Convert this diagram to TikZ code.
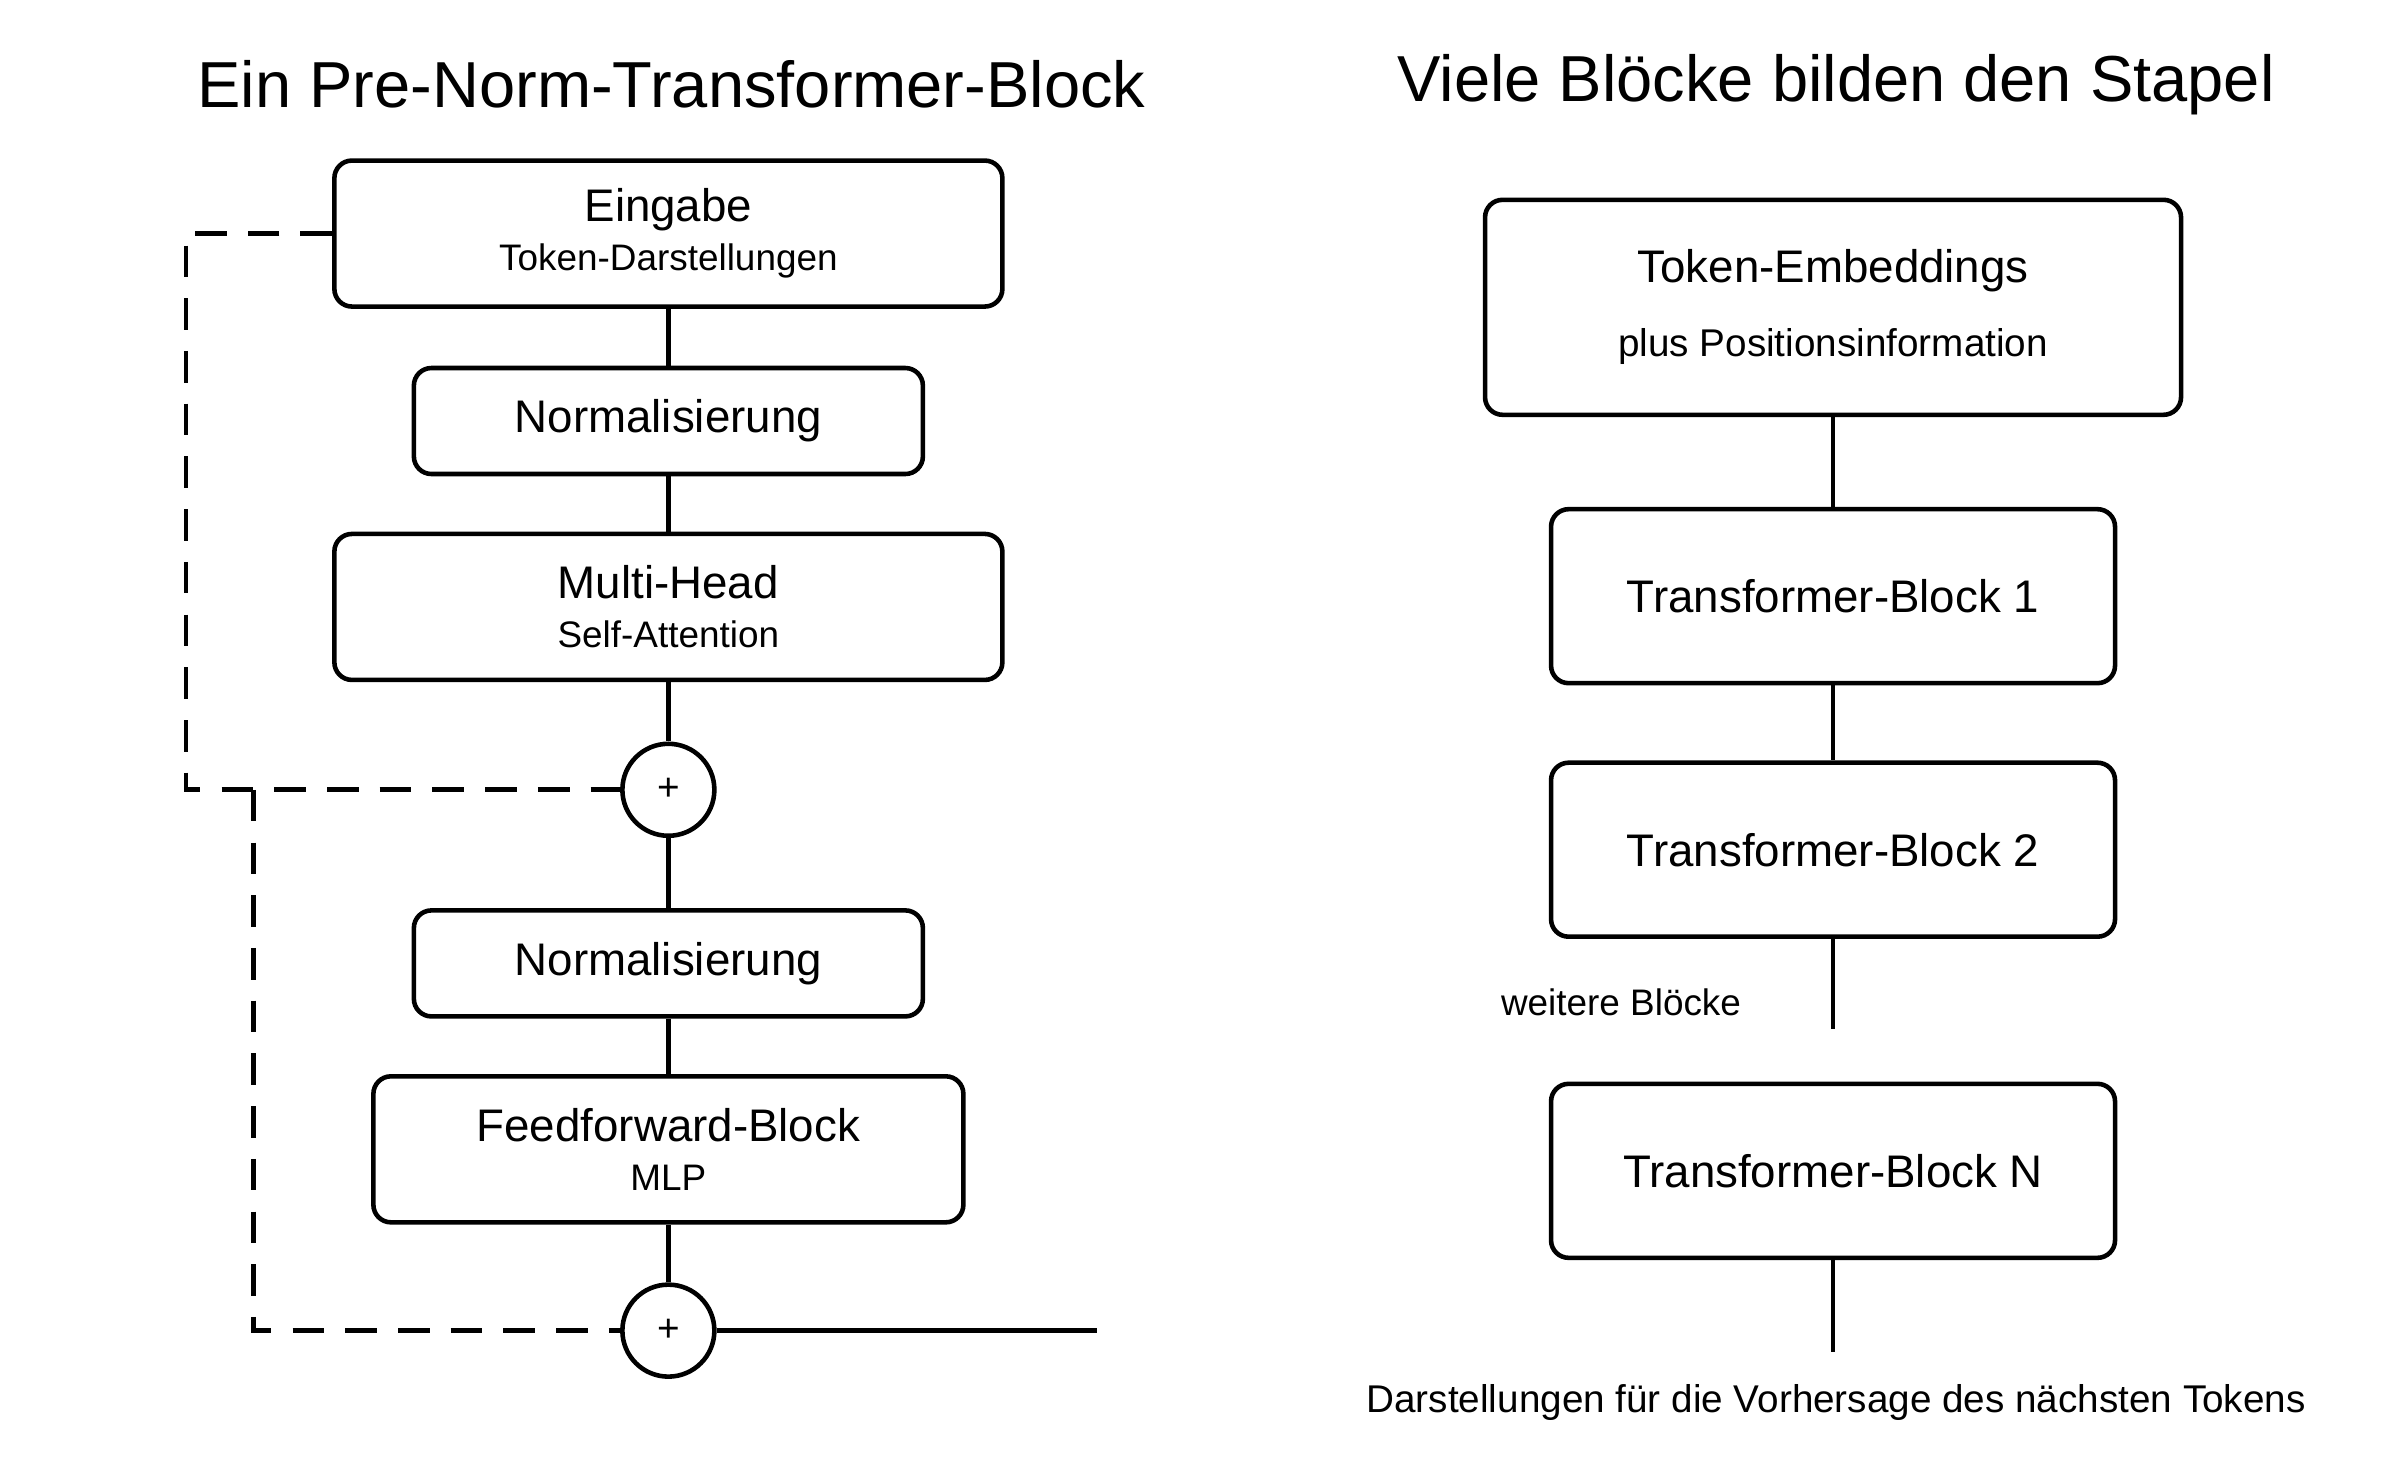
\documentclass[tikz,border=0pt]{standalone}
\usepackage{fontspec}
\setmainfont{Liberation Sans}
\usetikzlibrary{positioning}

\begin{document}
\begin{tikzpicture}[x=0.015365cm,y=-0.015365cm,line width=1.3pt]
  \tikzset{block/.style={rectangle,draw,rounded corners=5pt,align=center,
                         inner sep=0pt,font=\fontsize{13}{15}\selectfont},
           small/.style={font=\fontsize{10.5}{12}\selectfont},
           addnode/.style={circle,draw,minimum size=0.92cm,inner sep=0pt,
                           font=\fontsize{11}{12}\selectfont},
           skip/.style={dashed,dash pattern=on 9pt off 6pt}}
  \useasboundingbox (0,0) rectangle (1562,955);

  % left: one block
  \node[font=\fontsize{18.5}{20}\selectfont] (tl) at (437,55) {Ein Pre-Norm-Transformer-Block};
  \node[block,minimum width=6.68cm,minimum height=1.46cm] (in) at (435,152)
       {Eingabe\\[-1pt]{\small\fontsize{10.5}{12}\selectfont Token-Darstellungen}};
  \node[block,minimum width=5.09cm,minimum height=1.06cm] (n1) at (435,274) {Normalisierung};
  \node[block,minimum width=6.68cm,minimum height=1.46cm] (att) at (435,395)
       {Multi-Head\\[-1pt]{\fontsize{10.5}{12}\selectfont Self-Attention}};
  \node[addnode] (p1) at (435,514) {+};
  \node[block,minimum width=5.09cm,minimum height=1.06cm] (n2) at (435,627) {Normalisierung};
  \node[block,minimum width=5.90cm,minimum height=1.46cm] (ff) at (435,748)
       {Feedforward-Block\\[-1pt]{\fontsize{10.5}{12}\selectfont MLP}};
  \node[addnode] (p2) at (435,866) {+};
  \coordinate (out) at (714,866);

  \draw (in) -- (n1);
  \draw (n1) -- (att);
  \draw (att) -- (p1);
  \draw (p1) -- (n2);
  \draw (n2) -- (ff);
  \draw (ff) -- (p2);
  \draw (p2) -- (out);
  \draw[skip] (in.west) -- (121,152) -- (121,514) -- (p1.west);
  \draw[skip] (165,514) -- (165,866) -- (p2.west);

  % right: the stack
  \node[font=\fontsize{18.5}{20}\selectfont] (tr) at (1195,55) {Viele Blöcke bilden den Stapel};
  \node[block,minimum width=6.96cm,minimum height=2.15cm] (emb) at (1193,200)
       {Token-Embeddings\\[6pt]{\fontsize{11}{12}\selectfont plus Positionsinformation}};
  \node[block,minimum width=5.64cm,minimum height=1.74cm] (b1) at (1193,388) {Transformer-Block 1};
  \node[block,minimum width=5.64cm,minimum height=1.74cm] (b2) at (1193,553) {Transformer-Block 2};
  \coordinate (more) at (1193,670);
  \node[small] (mt) at (1055,652) {weitere Blöcke};
  \node[block,minimum width=5.64cm,minimum height=1.74cm] (bn) at (1193,762) {Transformer-Block N};
  \coordinate (end) at (1193,880);
  \node[small,font=\fontsize{11}{12}\selectfont] (res) at (1195,913)
       {Darstellungen für die Vorhersage des nächsten Tokens};

  \draw (emb) -- (b1);
  \draw (b1) -- (b2);
  \draw (b2) -- (more);
  \draw (bn) -- (end);
\end{tikzpicture}
\end{document}
